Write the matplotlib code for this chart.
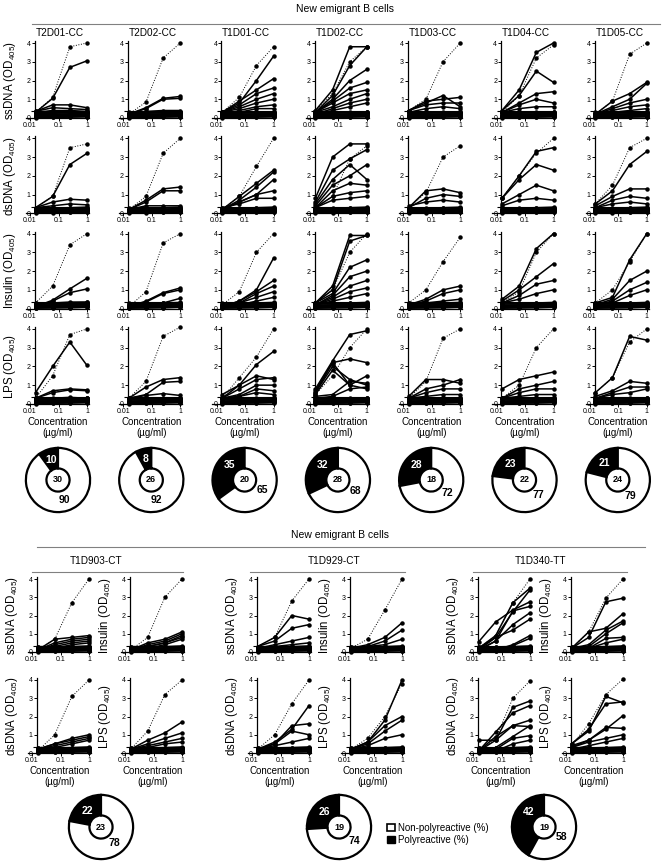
import math
import matplotlib
matplotlib.use("Agg")
import matplotlib.pyplot as plt
from matplotlib.patches import Patch
from matplotlib.ticker import NullLocator

plt.rcParams["font.family"] = ["Liberation Sans", "DejaVu Sans"]
plt.rcParams["mathtext.fontset"] = "custom"
plt.rcParams["mathtext.rm"] = "Liberation Sans"

W, H = 665, 864

# ELISA concentrations (ug/ml) and positivity cutoff (OD405)
conc = [0.0156, 0.0625, 0.25, 1.0]
cutoff = 0.35

# ---------------- top block: 7 donors x 4 antigens ----------------
top_donors = ["T2D01-CC", "T2D02-CC", "T1D01-CC", "T1D02-CC", "T1D03-CC", "T1D04-CC", "T1D05-CC"]
top_poly = [10, 8, 35, 32, 28, 23, 21]
top_nonpoly = [90, 92, 65, 68, 72, 77, 79]
top_n = [30, 26, 20, 28, 18, 22, 24]
antigens = ["ssDNA", "dsDNA", "Insulin", "LPS"]

# positive control (ED38), one per donor
ssdna_ctrl = [[0.3, 1.1, 3.8, 4.0], [0.2, 0.85, 3.2, 4.0], [0.3, 1.1, 2.8, 3.8], [0.4, 1.3, 3.0, 3.8],
              [0.4, 1.0, 3.0, 4.0], [0.3, 1.2, 3.2, 3.9], [0.2, 0.9, 3.4, 4.0]]
dsdna_ctrl = [[0.3, 0.9, 3.5, 3.7], [0.2, 0.9, 3.2, 4.0], [0.2, 0.9, 2.5, 4.0], [0.3, 0.9, 2.9, 3.6],
              [0.3, 1.1, 3.0, 3.6], [0.8, 2.0, 3.2, 4.0], [0.5, 1.5, 3.5, 4.0]]
insulin_ctrl = [[0.3, 1.2, 3.4, 4.0], [0.1, 0.9, 3.5, 4.0], [0.2, 0.9, 3.0, 4.0], [0.3, 1.0, 3.0, 4.0],
                [0.3, 1.0, 2.5, 3.8], [0.3, 0.9, 3.0, 4.0], [0.3, 1.0, 2.5, 4.0]]
lps_ctrl = [[0.3, 1.5, 3.7, 4.0], [0.3, 1.2, 3.6, 4.1], [0.3, 1.4, 2.5, 4.0], [0.5, 1.5, 3.0, 4.0],
            [0.3, 1.2, 3.5, 4.0], [0.3, 1.0, 3.0, 4.0], [0.6, 1.4, 3.3, 4.0]]

# reactive clones per donor
ssdna_lines = [
    [[0.3, 1.05, 2.7, 3.05], [0.35, 0.7, 0.7, 0.55], [0.35, 0.55, 0.5, 0.45], [0.3, 0.4, 0.4, 0.35]],
    [[0.2, 0.55, 1.05, 1.15], [0.2, 0.5, 1.0, 1.05], [0.2, 0.35, 0.4, 0.4]],
    [[0.3, 0.8, 2.0, 3.3], [0.3, 0.9, 1.5, 2.1], [0.3, 0.7, 1.3, 1.6], [0.3, 0.6, 1.0, 1.3],
     [0.3, 0.5, 0.8, 1.0], [0.2, 0.4, 0.6, 0.7], [0.2, 0.3, 0.5, 0.5]],
    [[0.4, 1.5, 3.8, 3.8], [0.3, 1.2, 2.8, 3.8], [0.3, 1.0, 2.0, 2.6], [0.3, 0.9, 1.6, 1.9],
     [0.3, 0.8, 1.3, 1.5], [0.3, 0.6, 1.0, 1.3], [0.2, 0.5, 0.8, 1.0], [0.2, 0.4, 0.6, 0.8]],
    [[0.4, 0.8, 1.2, 0.6], [0.4, 0.9, 1.0, 1.1], [0.4, 0.7, 0.8, 0.8], [0.3, 0.5, 0.6, 0.5]],
    [[0.4, 1.5, 3.5, 4.0], [0.4, 1.2, 2.5, 1.9], [0.3, 0.8, 1.3, 1.4], [0.3, 0.7, 1.0, 0.8], [0.3, 0.5, 0.6, 0.6]],
    [[0.2, 0.9, 1.3, 1.9], [0.2, 0.6, 1.0, 1.85], [0.2, 0.5, 0.8, 1.0], [0.2, 0.4, 0.6, 0.7], [0.2, 0.3, 0.4, 0.5]],
]
dsdna_lines = [
    [[0.3, 0.9, 2.6, 3.2], [0.3, 0.6, 0.75, 0.7], [0.3, 0.4, 0.5, 0.45]],
    [[0.2, 0.7, 1.3, 1.4], [0.2, 0.6, 1.2, 1.2], [0.2, 0.4, 0.4, 0.4]],
    [[0.2, 0.9, 1.6, 2.3], [0.2, 0.7, 1.4, 2.2], [0.2, 0.6, 1.0, 1.8], [0.2, 0.6, 1.0, 1.2], [0.3, 0.5, 0.8, 0.8]],
    [[0.8, 3.0, 3.7, 3.7], [0.6, 2.3, 2.9, 3.4], [0.5, 1.8, 2.6, 1.8], [0.4, 1.5, 2.0, 2.6],
     [0.3, 1.2, 1.6, 1.5], [0.3, 0.9, 1.1, 1.2], [0.3, 0.7, 0.8, 0.9]],
    [[0.3, 1.2, 1.3, 1.1], [0.3, 0.8, 1.0, 0.9], [0.4, 0.6, 0.7, 0.6]],
    [[0.8, 2.0, 3.3, 3.5], [0.8, 1.8, 2.6, 2.3], [0.5, 1.0, 1.5, 1.2], [0.4, 0.7, 0.8, 0.7]],
    [[0.5, 1.2, 2.6, 3.3], [0.4, 0.9, 1.3, 1.3], [0.3, 0.7, 0.9, 0.8], [0.3, 0.5, 0.6, 0.5]],
]
insulin_lines = [
    [[0.1, 0.45, 1.05, 1.62], [0.1, 0.4, 0.85, 1.05], [0.2, 0.3, 0.35, 0.35]],
    [[0.1, 0.4, 0.85, 1.1], [0.1, 0.35, 0.8, 1.0], [0.1, 0.2, 0.3, 0.55]],
    [[0.1, 0.4, 1.0, 2.7], [0.1, 0.4, 0.9, 1.5], [0.1, 0.3, 0.8, 1.2], [0.1, 0.3, 0.6, 0.9], [0.1, 0.2, 0.4, 0.6]],
    [[0.3, 1.2, 3.9, 3.9], [0.3, 1.0, 3.6, 3.9], [0.3, 0.8, 2.2, 2.6], [0.2, 0.7, 1.7, 2.0],
     [0.2, 0.6, 1.2, 1.5], [0.2, 0.5, 0.9, 1.1], [0.2, 0.4, 0.6, 0.8]],
    [[0.2, 0.5, 1.0, 1.2], [0.2, 0.4, 0.8, 1.0], [0.2, 0.3, 0.4, 0.5]],
    [[0.5, 1.2, 3.2, 4.0], [0.4, 1.0, 1.7, 2.4], [0.3, 0.7, 1.3, 1.5], [0.3, 0.5, 0.8, 1.0]],
    [[0.3, 0.6, 2.6, 4.0], [0.2, 0.5, 1.5, 2.0], [0.2, 0.4, 1.0, 1.4], [0.2, 0.3, 0.7, 1.0]],
]
lps_lines = [
    [[0.6, 2.0, 3.3, 2.05], [0.3, 0.7, 0.8, 0.75], [0.3, 0.6, 0.75, 0.7], [0.2, 0.3, 0.35, 0.3]],
    [[0.3, 0.9, 1.3, 1.4], [0.3, 0.5, 1.15, 1.2], [0.3, 0.45, 0.55, 0.45]],
    [[0.3, 1.0, 2.1, 2.8], [0.5, 1.0, 1.5, 1.3], [0.3, 0.8, 1.3, 1.4], [0.3, 0.5, 1.0, 1.0],
     [0.3, 0.4, 0.8, 0.7], [0.3, 0.4, 0.6, 0.5]],
    [[0.8, 2.3, 3.7, 3.9], [0.7, 2.2, 2.4, 2.2], [0.6, 2.0, 1.3, 1.0], [0.5, 1.8, 1.0, 1.5],
     [0.6, 2.2, 1.0, 0.8], [0.4, 0.5, 1.2, 1.1], [0.3, 0.4, 0.8, 0.9]],
    [[0.4, 1.3, 1.3, 1.1], [0.3, 0.8, 1.0, 1.3], [0.3, 0.6, 0.8, 0.8], [0.3, 0.4, 0.5, 0.5]],
    [[0.8, 1.3, 1.5, 1.7], [0.3, 0.8, 1.0, 1.2], [0.3, 0.6, 0.8, 0.8], [0.3, 0.4, 0.5, 0.5]],
    [[0.6, 1.4, 3.6, 3.4], [0.4, 0.7, 1.2, 1.1], [0.3, 0.6, 0.9, 0.9], [0.3, 0.5, 0.6, 0.8]],
]

# non-reactive clones (dense band near baseline)
low_lines = [[0.02, 0.03, 0.05, 0.08], [0.05, 0.05, 0.05, 0.06], [0.08, 0.1, 0.12, 0.15],
             [0.1, 0.1, 0.1, 0.12], [0.15, 0.15, 0.18, 0.2], [0.05, 0.1, 0.15, 0.25],
             [0.2, 0.2, 0.22, 0.25], [0.1, 0.12, 0.15, 0.3], [0.25, 0.25, 0.28, 0.3],
             [0.12, 0.18, 0.22, 0.18], [0.3, 0.28, 0.3, 0.33]]

# ---------------- bottom block: 3 donors x 4 antigens ----------------
bottom_donors = ["T1D903-CT", "T1D929-CT", "T1D340-TT"]
bottom_poly = [22, 26, 42]
bottom_nonpoly = [78, 74, 58]
bottom_n = [23, 19, 19]
bottom_antigens = ["ssDNA", "Insulin", "dsDNA", "LPS"]

bottom_ctrl = [
    [[0.1, 0.7, 2.7, 4.0], [0.1, 0.8, 3.0, 4.0], [0.1, 1.0, 3.1, 4.0], [0.2, 1.2, 3.2, 4.0]],
    [[0.3, 0.8, 2.8, 4.0], [0.2, 0.7, 2.3, 4.0], [0.2, 1.0, 2.7, 4.0], [0.2, 0.8, 2.0, 3.8]],
    [[0.2, 0.9, 2.7, 4.0], [0.2, 1.1, 2.95, 4.0], [0.1, 0.8, 3.0, 3.95], [0.4, 1.6, 3.2, 4.05]],
]
bottom_lines = [
    [
        [[0.1, 0.7, 0.8, 0.9], [0.1, 0.5, 0.7, 0.8], [0.1, 0.4, 0.6, 0.7], [0.1, 0.3, 0.5, 0.6], [0.1, 0.2, 0.4, 0.5]],
        [[0.1, 0.5, 0.7, 1.1], [0.1, 0.4, 0.6, 1.0], [0.1, 0.3, 0.5, 0.9], [0.1, 0.3, 0.5, 0.8], [0.1, 0.2, 0.4, 0.7]],
        [[0.2, 0.5, 0.8, 1.0], [0.2, 0.5, 0.7, 0.9], [0.2, 0.4, 0.6, 0.8], [0.1, 0.3, 0.5, 0.7]],
        [[0.2, 0.7, 1.1, 1.7], [0.2, 0.5, 0.8, 1.1], [0.2, 0.4, 0.6, 0.8], [0.2, 0.3, 0.5, 0.6]],
    ],
    [
        [[0.3, 0.8, 2.0, 1.8], [0.3, 0.6, 1.3, 1.5], [0.2, 0.4, 0.6, 0.8], [0.2, 0.3, 0.4, 0.5]],
        [[0.2, 0.4, 0.8, 1.6], [0.2, 0.3, 0.6, 1.2], [0.1, 0.3, 0.4, 0.7]],
        [[0.2, 0.6, 1.3, 2.6], [0.2, 0.5, 1.5, 1.6], [0.2, 0.5, 1.2, 1.0], [0.2, 0.4, 0.6, 0.8]],
        [[0.2, 0.6, 1.8, 4.0], [0.2, 0.6, 1.5, 2.0], [0.2, 0.5, 1.2, 1.8], [0.2, 0.4, 0.8, 1.0]],
    ],
    [
        [[0.55, 1.65, 2.3, 2.75], [0.2, 0.9, 2.7, 3.5], [0.2, 0.8, 2.2, 3.4], [0.1, 0.6, 2.25, 2.5],
         [0.1, 0.6, 1.5, 2.15], [0.1, 0.8, 1.2, 1.8], [0.1, 0.1, 0.4, 0.9], [0.1, 0.1, 0.35, 0.75]],
        [[0.2, 0.8, 2.75, 2.95], [0.2, 1.1, 1.3, 2.1], [0.2, 0.4, 1.2, 1.7], [0.1, 0.3, 1.0, 1.6],
         [0.1, 0.2, 0.75, 0.8], [0.1, 0.2, 0.5, 0.7]],
        [[0.7, 0.7, 2.5, 2.85], [0.1, 1.15, 2.2, 2.6], [0.1, 0.9, 1.5, 1.8], [0.1, 0.7, 1.5, 1.45],
         [0.1, 0.3, 0.9, 1.5], [0.1, 0.2, 0.8, 0.95], [0.1, 0.1, 0.5, 0.7]],
        [[0.5, 1.3, 2.7, 2.8], [0.5, 1.2, 3.1, 2.75], [0.4, 0.7, 1.3, 2.05], [0.3, 0.7, 1.4, 1.35],
         [0.3, 0.6, 0.8, 1.0], [0.2, 0.4, 0.6, 0.8]],
    ],
]

DEC = 28.5  # px per decade on x


def px_axes(fig, left, top, width, height):
    return fig.add_axes([left / W, 1 - (top + height) / H, width / W, height / H])


def draw_panel(fig, x0, y0, scale, ctrl, lines, ylabel=None, xlabel=False):
    """x0: pixel x of 0.01, y0: pixel y of OD 0."""
    lo, hi, ymax = -2.15, 0.06, 4.1
    ax = px_axes(fig, x0 - (-2 - lo) * DEC, y0 - ymax * scale, (hi - lo) * DEC, ymax * scale)
    ax.set_xscale("log")
    ax.set_xlim(10 ** lo, 10 ** hi)
    ax.set_ylim(0, ymax)
    for v in low_lines + lines:
        ax.plot(conc, v, "-o", color="black", lw=1.1, ms=2.2, clip_on=False)
    ax.plot(conc, ctrl, ":", marker="o", color="black", lw=0.7, ms=2.2, clip_on=False)
    ax.hlines(cutoff, 0.0105, 1.0, color="black", lw=0.8)
    for s in ["top", "right"]:
        ax.spines[s].set_visible(False)
    ax.spines["left"].set_position(("data", 0.0148))
    ax.spines["left"].set_linewidth(0.9)
    ax.spines["bottom"].set_linewidth(0.9)
    ax.set_xticks([0.01, 0.1, 1])
    ax.set_xticklabels(["0.01", "0.1", "1"])
    ax.xaxis.set_minor_locator(NullLocator())
    ax.set_yticks([0, 1, 2, 3, 4])
    ax.tick_params(labelsize=5, length=2, width=0.7, pad=1)
    if ylabel:
        fig.text((x0 - 20) / W, 1 - (y0 - 2.0 * scale) / H, ylabel + " (OD$_{405}$)",
                 rotation=90, ha="center", va="center", fontsize=8.3)
    if xlabel:
        fig.text((x0 + 28) / W, 1 - (y0 + 18) / H, "Concentration", ha="center", va="center", fontsize=7)
        fig.text((x0 + 28) / W, 1 - (y0 + 29) / H, "(\u00b5g/ml)", ha="center", va="center", fontsize=7)
    return ax


def draw_donut(fig, cx, cy, poly, nonpoly, n, r=32):
    ax = px_axes(fig, cx - r - 3, cy - r - 3, 2 * r + 6, 2 * r + 6)
    ax.pie([poly, nonpoly], colors=["black", "white"], startangle=90, counterclock=True,
           wedgeprops=dict(width=0.64, edgecolor="black", linewidth=1.6))
    ax.set_xlim(-1.09, 1.09)
    ax.set_ylim(-1.09, 1.09)
    ax.set_aspect("equal")
    a = math.radians(90 + min(poly * 1.8, 45))
    ax.text(0.66 * math.cos(a), 0.66 * math.sin(a), str(poly), color="white",
            fontweight="bold", fontsize=7.5, ha="center", va="center")
    b = (90 + poly * 3.6 + nonpoly * 1.8) % 360 - 360
    b = math.radians(min(b, -30))
    ax.text(0.64 * math.cos(b), 0.64 * math.sin(b), str(nonpoly), color="black",
            fontweight="bold", fontsize=7.5, ha="center", va="center")
    ax.text(0, 0, str(n), fontweight="bold", fontsize=6.5, ha="center", va="center")


fig = plt.figure(figsize=(W / 100, H / 100), dpi=100)

# top header
fig.text(345 / W, 1 - 9 / H, "New emigrant B cells", ha="center", va="center", fontsize=7.5)
fig.add_artist(plt.Line2D([32 / W, 660 / W], [1 - 24 / H, 1 - 24 / H], color="gray", lw=0.8))

top_ctrl = [ssdna_ctrl, dsdna_ctrl, insulin_ctrl, lps_ctrl]
top_lines = [ssdna_lines, dsdna_lines, insulin_lines, lps_lines]
for c, donor in enumerate(top_donors):
    x0 = 30 + 93.3 * c
    fig.text((x0 + 29.5) / W, 1 - 33 / H, donor, ha="center", va="center", fontsize=7.2)
    for r, ag in enumerate(antigens):
        y0 = 118 + 95.3 * r
        draw_panel(fig, x0, y0, 18.75, top_ctrl[r][c], top_lines[r][c],
                   ylabel=ag if c == 0 else None, xlabel=(r == 3))
    draw_donut(fig, x0 + 28, 480, top_poly[c], top_nonpoly[c], top_n[c])

# bottom header
fig.text(340 / W, 1 - 535 / H, "New emigrant B cells", ha="center", va="center", fontsize=7.5)
fig.add_artist(plt.Line2D([37 / W, 645 / W], [1 - 547 / H, 1 - 547 / H], color="gray", lw=0.8))

group_x = [32, 252, 473]
title_x = [96, 334, 540]
donut_x = [101, 339, 544]
line_span = [(32, 183), (250, 405), (473, 627)]
for g, donor in enumerate(bottom_donors):
    gx = group_x[g]
    fig.text(title_x[g] / W, 1 - 561 / H, donor, ha="center", va="center", fontsize=7.2)
    x_a, x_b = line_span[g]
    fig.add_artist(plt.Line2D([x_a / W, x_b / W], [1 - 572 / H, 1 - 572 / H], color="gray", lw=0.8))
    for k, ag in enumerate(bottom_antigens):
        x0 = gx + 93 * (k % 2)
        y0 = 652 + 101 * (k // 2)
        draw_panel(fig, x0, y0, 18.25, bottom_ctrl[g][k], bottom_lines[g][k],
                   ylabel=ag, xlabel=(k >= 2))
    draw_donut(fig, donut_x[g], 827, bottom_poly[g], bottom_nonpoly[g], bottom_n[g])

handles = [Patch(facecolor="white", edgecolor="black", lw=1.2), Patch(facecolor="black", edgecolor="black")]
fig.legend(handles, ["Non-polyreactive (%)", "Polyreactive (%)"], loc="center left",
           bbox_to_anchor=(382 / W, 1 - 834 / H), frameon=False, fontsize=7,
           handlelength=0.8, handleheight=0.8, handletextpad=0.3, labelspacing=0.2, borderpad=0)

fig.savefig("out.png", dpi=100)
